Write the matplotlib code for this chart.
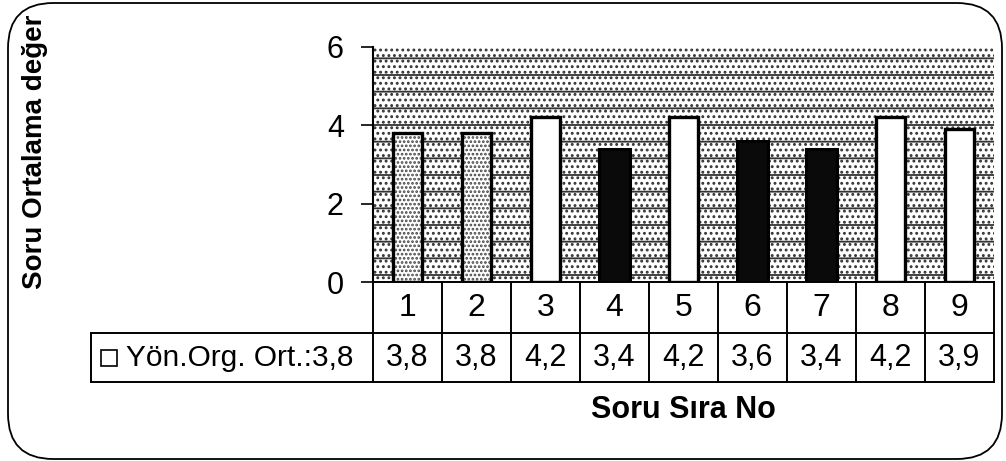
import matplotlib
matplotlib.use("Agg")
import matplotlib.pyplot as plt
from matplotlib.patches import Rectangle, FancyBboxPatch
from matplotlib.lines import Line2D

# ---- data ----
categories = ["1", "2", "3", "4", "5", "6", "7", "8", "9"]
values = [3.8, 3.8, 4.2, 3.4, 4.2, 3.6, 3.4, 4.2, 3.9]
series_name = "Yön.Org. Ort.:3,8"
y_ticks = [0, 2, 4, 6]
y_label = "Soru Ortalama değer"
x_label = "Soru Sıra No"

# bar styles: 'dot' light stippled, 'white', 'dark'
bar_styles = ["dot", "dot", "white", "dark", "white", "dark", "dark", "white", "white"]

plt.rcParams['font.family'] = ['Liberation Sans', 'DejaVu Sans']
plt.rcParams['hatch.linewidth'] = 1.3

W, H = 1006, 461
fig = plt.figure(figsize=(W / 100, H / 100), dpi=100)

L, R, T, B = 373, 994, 47, 282
ax = fig.add_axes([L / W, 1 - B / H, (R - L) / W, (B - T) / H])
ax.set_xlim(-0.5, len(categories) - 0.5)
ax.set_ylim(0, 6)

# background pattern
bg = Rectangle((0, 0), 1, 1, transform=ax.transAxes, facecolor='white',
               edgecolor='#333333', hatch='-...', linewidth=0, zorder=0)
ax.add_patch(bg)
ax.patch.set_visible(False)

x = list(range(len(categories)))
for xi, v, st in zip(x, values, bar_styles):
    if st == "dot":
        ax.bar(xi, v, width=0.42, facecolor='white', edgecolor='#444444',
               hatch='....', linewidth=0, zorder=2)
        ax.bar(xi, v, width=0.42, facecolor='none', edgecolor='black',
               linewidth=2.4, zorder=3)
    elif st == "dark":
        ax.bar(xi, v, width=0.45, facecolor='#0a0a0a', edgecolor='black',
               linewidth=2.2, zorder=2)
    else:
        ax.bar(xi, v, width=0.42, facecolor='white', edgecolor='black',
               linewidth=2.4, zorder=2)

for s in ['top', 'right', 'bottom']:
    ax.spines[s].set_visible(False)
ax.spines['left'].set_linewidth(1.5)
ax.set_yticks(y_ticks)
ax.set_yticklabels([str(t) for t in y_ticks], fontsize=22)
ax.tick_params(axis='y', direction='out', length=9, width=1.2, pad=12)
ax.set_xticks([])

# ---- data table ----
px = lambda p: (p - L) / (R - L)          # fig px -> axes fraction x
py = lambda p: (B - p) / (B - T)          # fig px -> axes fraction y
hdr_bot, row_bot, leg_left = 333, 382, 91
tr = ax.transAxes
lw = 1.4
def line(xs, ys):
    ax.add_line(Line2D(xs, ys, transform=tr, color='black', lw=lw, clip_on=False, zorder=5))

n = len(categories)
line([0, 1], [py(B), py(B)])
line([px(leg_left), 1], [py(hdr_bot), py(hdr_bot)])
line([px(leg_left), 1], [py(row_bot), py(row_bot)])
line([px(leg_left), px(leg_left)], [py(hdr_bot), py(row_bot)])
for i in range(n + 1):
    xf = i / n
    line([xf, xf], [py(B), py(row_bot)])

for i, (c, v) in enumerate(zip(categories, values)):
    xc = (i + 0.5) / n
    ax.text(xc, py((B + hdr_bot) / 2), c, transform=tr, ha='center', va='center',
            fontsize=23, clip_on=False)
    ax.text(xc, py((hdr_bot + row_bot) / 2), f"{v:.1f}".replace('.', ','),
            transform=tr, ha='center', va='center', fontsize=22, clip_on=False)

# legend key + series name
ax.add_patch(Rectangle((px(101), py(366)), px(117) - px(101), py(350) - py(366),
                       transform=tr, facecolor='white', edgecolor='black',
                       lw=1.2, clip_on=False, zorder=5))
ax.text(px(126), py((hdr_bot + row_bot) / 2), series_name, transform=tr,
        ha='left', va='center', fontsize=21.5, clip_on=False)

# axis labels
fig.text(35 / W, 1 - 152 / H, y_label, rotation=90, ha='center', va='center',
         fontsize=20, fontweight='bold')
fig.text((L + R) / 2 / W, 1 - 410 / H, x_label, ha='center', va='center',
         fontsize=22, fontweight='bold')

# outer rounded frame
frame = FancyBboxPatch((8 / W, 1 - 459 / H), (1002 - 8) / W, (459 - 3) / H,
                       boxstyle="round,pad=0,rounding_size=0.045",
                       transform=fig.transFigure, facecolor='none',
                       edgecolor='black', lw=1.3, mutation_aspect=W / H)
fig.patches.append(frame)

fig.savefig("out.png", dpi=100)
